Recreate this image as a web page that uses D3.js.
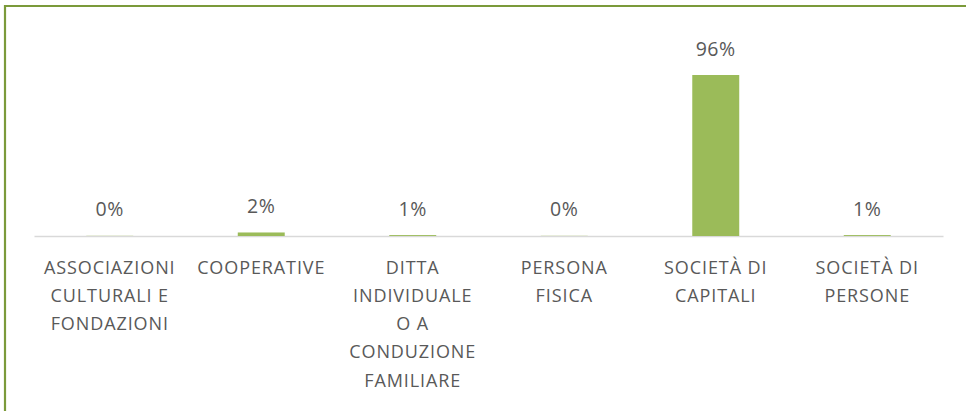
<!DOCTYPE html>
<html>
<head>
<meta charset="utf-8">
<script src="https://cdn.jsdelivr.net/npm/d3@7"></script>
<style>
  body { margin: 0; background: #fff; }
  svg text { font-family: "Open Sans", sans-serif; fill: #595959; }
</style>
</head>
<body>
<div id="chart"></div>
<script>
const categories = [
  'ASSOCIAZIONI\nCULTURALI E\nFONDAZIONI',
  'COOPERATIVE',
  'DITTA\nINDIVIDUALE\nO A\nCONDUZIONE\nFAMILIARE',
  'PERSONA\nFISICA',
  'SOCIETÀ DI\nCAPITALI',
  'SOCIETÀ DI\nPERSONE'
]
const values = [0.001, 0.021, 0.0055, 0.001, 0.96, 0.0055]

const W = 966, H = 411
const margin = {top: 75, right: 23, bottom: 175, left: 34}
const width = W - margin.left - margin.right
const height = H - margin.top - margin.bottom

const svg = d3.select('#chart').append('svg')
  .attr('width', W)
  .attr('height', H)

// frame
svg.append('path')
  .attr('d', `M5,${H + 5} L5,6 L${W + 5},6`)
  .attr('fill', 'none')
  .attr('stroke', '#7B9A3A')
  .attr('stroke-width', 2.2)

const g = svg.append('g')
  .attr('transform', `translate(${margin.left},${margin.top})`)

const x = d3.scaleBand()
  .domain(categories)
  .range([0, width])
  .paddingInner(0.69)
  .paddingOuter(0.345)

const y = d3.scaleLinear()
  .domain([0, 0.96])
  .range([height, 0])

// axis line (under the bars)
const xAxis = g.append('g')
  .attr('transform', `translate(0,${height})`)
  .call(d3.axisBottom(x).tickSize(0).tickSizeOuter(0).tickFormat(''))
xAxis.select('.domain').attr('stroke', '#D9D9D9').attr('stroke-width', 1.5)

g.selectAll('rect.bar')
  .data(values)
  .enter().append('rect')
  .attr('class', 'bar')
  .attr('x', (d, i) => x(categories[i]))
  .attr('y', d => y(d))
  .attr('width', x.bandwidth())
  .attr('height', d => height - y(d))
  .attr('fill', '#9BBB59')

// category labels
const fmt = d3.format('.0%')
categories.forEach((c, i) => {
  const cx = x(c) + x.bandwidth() / 2
  const t = g.append('text')
    .attr('text-anchor', 'middle')
    .attr('font-size', 18)
    .attr('letter-spacing', 0.9)
  c.split('\n').forEach((line, j) => {
    t.append('tspan')
      .attr('x', cx)
      .attr('y', height + 37.5 + j * 28.3)
      .text(line)
  })
})

// value labels
g.selectAll('text.val')
  .data(values)
  .enter().append('text')
  .attr('class', 'val')
  .attr('text-anchor', 'middle')
  .attr('font-size', 19.5)
  .attr('letter-spacing', 0.6)
  .attr('x', (d, i) => x(categories[i]) + x.bandwidth() / 2)
  .attr('y', d => y(d) - 19.5)
  .text(d => fmt(d))
</script>
</body>
</html>
